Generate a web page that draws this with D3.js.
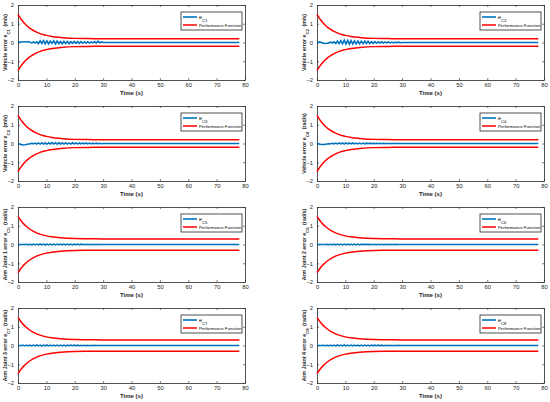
<!DOCTYPE html>
<html>
<head>
<meta charset="utf-8">
<title>Error signals</title>
<script src="https://cdn.jsdelivr.net/npm/d3@7"></script>
<style>
body{margin:0;background:#fff;}
text{font-family:"Liberation Sans",Arial,sans-serif;}
</style>
</head>
<body>
<svg id="chart" width="550" height="402"></svg>
<script>
// axis ticks
var xTicks = [0,10,20,30,40,50,60,70,80];
var yTicks = [-2,-1,0,1,2];

// y labels per panel (name, subscript, unit)
var yNames = ["Vehicle error e","Vehicle error e","Vehicle error e","Vehicle error e",
              "Arm Joint 1 error e","Arm Joint 2 error e","Arm Joint 3 error e","Arm Joint 4 error e"];
var ySubs  = ["C1","C2","C3","C4","C5","C6","C7","C8"];
var yUnits = ["(m/s)","(m/s)","(m/s)","(rad/s)","(rad/s)","(rad/s)","(rad/s)","(rad/s)"];
// panel order: row by row, left then right
var panelOrder = [0,1,2,3,4,5,6,7];

// time samples of the error signal (s), last point holds to the end
var errT = [0,0.6,1.2,1.8,2.4,3,3.6,4.2,4.8,5.4,6,6.6,7.2,7.8,8.4,9,9.6,10.2,10.8,11.4,
            12,12.6,13.2,13.8,14.4,15,15.6,16.2,16.8,17.4,18,18.6,19.2,19.8,20.4,21,21.6,22.2,22.8,23.4,
            24,24.6,25.2,25.8,26.4,27,27.6,28.2,28.8,29.4,30,78];

var err1 = [0,0.02,0.03,0.04,0.04,0.03,0.05,0.02,-0.02,0.03,-0.03,0.04,-0.06,0.09,-0.05,0.1,-0.07,0.09,-0.08,0.07,
            -0.05,0.09,-0.07,0.08,-0.06,0.05,-0.07,0.06,-0.05,0.05,-0.06,0.05,-0.04,0.06,-0.04,0.05,-0.04,0.05,-0.04,0.04,
            -0.03,0.04,-0.03,0.03,-0.02,0.05,-0.03,0.07,-0.02,0.03,0,0];
var err2 = [0,0.02,0.02,-0.02,-0.04,-0.05,-0.04,-0.02,0.02,-0.03,0.04,-0.05,0.07,-0.06,0.1,-0.07,0.12,-0.08,0.11,-0.09,
            0.1,-0.08,0.09,-0.07,0.08,-0.07,0.07,-0.06,0.07,-0.05,0.06,-0.05,0.05,-0.04,0.05,-0.04,0.04,-0.03,0.04,-0.03,
            0.03,-0.02,0.03,-0.02,0.02,-0.02,0.02,-0.01,0.02,-0.01,0,0];
var err3 = [0,-0.03,-0.06,-0.08,-0.07,-0.05,-0.03,-0.02,0.01,-0.02,0.02,-0.03,0.03,-0.03,0.04,-0.03,0.04,-0.04,0.04,-0.03,
            0.05,-0.03,0.04,-0.04,0.05,-0.03,0.04,-0.03,0.04,-0.03,0.03,-0.03,0.04,-0.02,0.03,-0.03,0.03,-0.02,0.03,-0.02,
            0.03,-0.02,0.02,-0.02,0.02,-0.01,0.02,-0.01,0.01,-0.01,0,0];
var err4 = [0,-0.02,-0.04,-0.05,-0.05,-0.04,-0.03,-0.02,-0.01,0.01,-0.02,0.02,-0.02,0.03,-0.02,0.03,-0.03,0.03,-0.02,0.03,
            -0.02,0.03,-0.02,0.02,-0.02,0.02,-0.02,0.02,-0.02,0.02,-0.01,0.02,-0.01,0.02,-0.01,0.01,-0.01,0.01,-0.01,0.01,
            -0.01,0.01,-0.01,0.01,-0.01,0.01,-0.01,0.01,0,0,0,0];
var err5 = [0,0,0,0,0,0.01,-0.01,0.01,-0.02,0.02,-0.02,0.02,-0.02,0.03,-0.02,0.02,-0.03,0.02,-0.02,0.02,
            -0.02,0.02,-0.02,0.02,-0.02,0.02,-0.02,0.02,-0.02,0.02,-0.02,0.02,-0.02,0.02,-0.01,0.02,-0.01,0.02,-0.01,0.01,
            -0.01,0.01,-0.01,0.01,-0.01,0.01,-0.01,0.01,0,0,0,0];
var err6 = [0,0,0,0,0,0,0.01,-0.01,0.01,-0.01,0.02,-0.02,0.02,-0.02,0.02,-0.02,0.02,-0.02,0.02,-0.02,
            0.02,-0.02,0.02,-0.02,0.02,-0.02,0.02,-0.01,0.02,-0.01,0.02,-0.01,0.01,-0.01,0.01,-0.01,0.01,-0.01,0.01,-0.01,
            0.01,-0.01,0.01,-0.01,0.01,-0.01,0.01,0,0,0,0,0];
var err7 = [0,0,0,0.01,-0.01,0.01,-0.01,0.02,-0.02,0.02,-0.02,0.03,-0.02,0.02,-0.03,0.02,-0.02,0.03,-0.02,0.02,
            -0.02,0.02,-0.02,0.02,-0.02,0.02,-0.02,0.02,-0.02,0.02,-0.01,0.02,-0.01,0.02,-0.01,0.02,-0.01,0.01,-0.01,0.01,
            -0.01,0.01,-0.01,0.01,-0.01,0.01,0,0,0,0,0,0];
var err8 = [0,0,0,0,0.01,-0.01,0.01,-0.02,0.02,-0.02,0.02,-0.02,0.03,-0.02,0.02,-0.02,0.03,-0.02,0.02,-0.02,
            0.02,-0.02,0.02,-0.02,0.02,-0.02,0.02,-0.02,0.02,-0.02,0.02,-0.02,0.02,-0.01,0.02,-0.01,0.02,-0.01,0.02,-0.01,
            0.01,-0.01,0.01,-0.01,0.01,-0.01,0.01,-0.01,0.01,0,0,0];
var errs = [err1,err2,err3,err4,err5,err6,err7,err8];

// performance function bounds
var pfT = [0,1,2,3,4,5,6,8,10,12,15,20,25,30,40,50,60,70,78];
var pfUpA = [1.5,1.26,1.07,0.91,0.78,0.68,0.59,0.46,0.38,0.32,0.27,0.22,0.21,0.2,0.2,0.2,0.2,0.2,0.2];
var pfLoA = [-1.5,-1.26,-1.07,-0.91,-0.78,-0.68,-0.59,-0.46,-0.38,-0.32,-0.27,-0.22,-0.21,-0.2,-0.2,-0.2,-0.2,-0.2,-0.2];
var pfUpB = [1.5,1.28,1.1,0.96,0.84,0.74,0.66,0.54,0.46,0.41,0.36,0.32,0.31,0.3,0.3,0.3,0.3,0.3,0.3];
var pfLoB = [-1.5,-1.28,-1.1,-0.96,-0.84,-0.74,-0.66,-0.54,-0.46,-0.41,-0.36,-0.32,-0.31,-0.3,-0.3,-0.3,-0.3,-0.3,-0.3];
var pfUp = [pfUpA,pfUpA,pfUpA,pfUpA,pfUpB,pfUpB,pfUpB,pfUpB];
var pfLo = [pfLoA,pfLoA,pfLoA,pfLoA,pfLoB,pfLoB,pfLoB,pfLoB];

var blue = "#0072BD", red = "#FF0000";
var colLeft = [18,317], rowTop = [5,106,207,308];
var pw = 227, ph = 75;

var svg = d3.select("#chart");

panelOrder.forEach(function(k){
	var col = k%2, row = Math.floor(k/2);
	var x = d3.scaleLinear().domain([0,80]).range([0,pw]);
	var y = d3.scaleLinear().domain([-2,2]).range([ph,0]);
	var g = svg.append("g").attr("transform","translate("+colLeft[col]+","+rowTop[row]+")");

	g.append("rect").attr("width",pw).attr("height",ph).attr("fill","#fff");

	// axes (ticks inside, box on)
	g.append("g").attr("transform","translate(0,"+ph+")")
		.call(d3.axisBottom(x).tickValues(xTicks).tickSizeInner(-2).tickSizeOuter(0).tickPadding(3));
	g.append("g")
		.call(d3.axisLeft(y).tickValues(yTicks).tickSizeInner(-2).tickSizeOuter(0).tickPadding(4).tickFormat(d3.format("d")));
	g.append("g").call(d3.axisTop(x).tickValues(xTicks).tickSizeInner(-2).tickSizeOuter(0).tickFormat(""));
	g.append("g").attr("transform","translate("+pw+",0)")
		.call(d3.axisRight(y).tickValues(yTicks).tickSizeInner(-2).tickSizeOuter(0).tickFormat(""));
	g.selectAll(".domain").attr("stroke","#262626").attr("stroke-width",0.8);
	g.selectAll(".tick line").attr("stroke","#262626").attr("stroke-width",0.6);
	g.selectAll(".tick text").attr("font-size",5.8).attr("fill","#262626").style("font-family","Liberation Sans, Arial, sans-serif");

	// data lines
	var lineE = d3.line().x(function(d,i){return x(errT[i]);}).y(function(d){return y(d);});
	var lineP = d3.line().x(function(d,i){return x(pfT[i]);}).y(function(d){return y(d);}).curve(d3.curveMonotoneX);
	g.append("path").datum(errs[k]).attr("d",lineE).attr("fill","none").attr("stroke",blue).attr("stroke-width",1.6);
	g.append("path").datum(pfUp[k]).attr("d",lineP).attr("fill","none").attr("stroke",red).attr("stroke-width",1.5);
	g.append("path").datum(pfLo[k]).attr("d",lineP).attr("fill","none").attr("stroke",red).attr("stroke-width",1.5);

	// axis labels
	g.append("text").attr("x",pw/2).attr("y",ph+15).attr("text-anchor","middle")
		.attr("font-size",6).attr("font-weight","bold").attr("fill","#262626").text("Time (s)");
	var yl = g.append("text").attr("transform","translate(-11,"+(ph/2)+") rotate(-90)")
		.attr("text-anchor","middle").attr("font-size",5.3).attr("font-weight","bold").attr("fill","#262626");
	yl.append("tspan").text(yNames[k]);
	yl.append("tspan").attr("baseline-shift","sub").attr("font-size",4.3).text(ySubs[k]);
	yl.append("tspan").attr("dx",2.5).text(yUnits[k]);

	// legend
	var lg = g.append("g").attr("transform","translate("+(pw-64)+",7)");
	lg.append("rect").attr("width",61).attr("height",18).attr("fill","#fff").attr("stroke","#262626").attr("stroke-width",0.8);
	lg.append("line").attr("x1",2).attr("x2",16).attr("y1",5).attr("y2",5).attr("stroke",blue).attr("stroke-width",1.6);
	lg.append("line").attr("x1",2).attr("x2",16).attr("y1",13).attr("y2",13).attr("stroke",red).attr("stroke-width",1.5);
	var t1 = lg.append("text").attr("x",18).attr("y",6.5).attr("font-size",5.5).attr("fill","#000");
	t1.append("tspan").text("e");
	t1.append("tspan").attr("baseline-shift","sub").attr("font-size",4.2).text(ySubs[k]);
	lg.append("text").attr("x",18).attr("y",14.8).attr("font-size",4.3).attr("fill","#000").text("Performance Function");
});
</script>
</body>
</html>
